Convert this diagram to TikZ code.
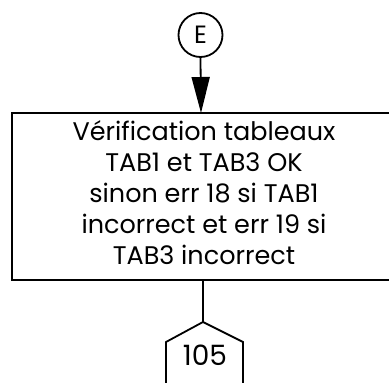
\documentclass[tikz,border=0pt]{standalone}
\usepackage{fontspec}
\setmainfont{Poppins}
\usetikzlibrary{arrows.meta}
\begin{document}
\begin{tikzpicture}[x=1pt,y=-1pt,
  line/.style={line width=1.8pt},
  conn/.style={circle,draw,line width=1.8pt,minimum size=44pt,inner sep=0pt,font=\fontsize{25}{27}\selectfont},
  boxtext/.style={align=center,font=\fontsize{25.5}{31}\selectfont,inner sep=0pt}]
\useasboundingbox (0,0) rectangle (389,383);
\clip (0,0) rectangle (389,383);
\node[conn] (E) at (200.5,35) {E};
\draw[line] (450,113) -- (12,113) -- (12,280) -- (450,280);
\coordinate (btop) at (201,113);
\coordinate (bbot) at (203,280);
\node[boxtext] (T) at (204,193) {Vérification tableaux\\TAB1 et TAB3 OK\\sinon err 18 si TAB1\\incorrect et err 19 si\\TAB3 incorrect};
\draw[line,-{Triangle[length=36pt,width=18pt]}] (E.south) -- (btop);
\coordinate (p) at (203,322);
\draw[line] (bbot) -- (p);
\draw[line] (p) -- (243,342) -- (243,395) (p) -- (166,342) -- (166,395);
\node[font=\fontsize{28}{30}\selectfont,inner sep=0pt] (n105) at (205,355) {105};
\end{tikzpicture}
\end{document}
